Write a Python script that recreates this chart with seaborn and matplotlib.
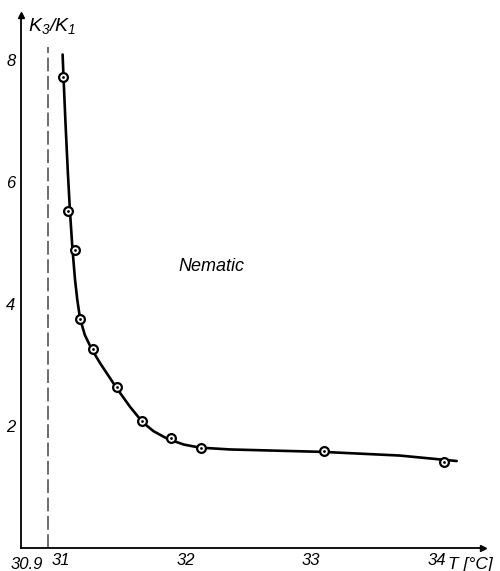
import numpy as np
import pandas as pd
import matplotlib
matplotlib.use("Agg")
import matplotlib.pyplot as plt
import seaborn as sns

# -------------------------------
# Data
# -------------------------------
temp_pts = [31.02, 31.06, 31.11, 31.15, 31.26, 31.45, 31.65, 31.88, 32.12, 33.10, 34.06]
ratio_pts = [7.72, 5.52, 4.89, 3.75, 3.26, 2.64, 2.07, 1.79, 1.64, 1.59, 1.41]

# hand-drawn fit curve through the points
temp_curve = [31.015, 31.022, 31.038, 31.057, 31.074, 31.094, 31.114, 31.132,
              31.154, 31.192, 31.246, 31.313, 31.445, 31.553, 31.652, 31.740,
              31.856, 31.983, 32.111, 32.350, 33.092, 33.706, 34.160]
ratio_curve = [8.09, 7.73, 6.97, 6.15, 5.51, 4.89, 4.40, 4.07,
               3.76, 3.49, 3.26, 3.03, 2.62, 2.31, 2.06, 1.91,
               1.78, 1.69, 1.64, 1.61, 1.57, 1.51, 1.42]

t_transition = 30.9
x_ticks = [31, 32, 33, 34]
y_ticks = [2, 4, 6, 8]

pts = pd.DataFrame({"T": temp_pts, "K": ratio_pts})
curve = pd.DataFrame({"T": temp_curve, "K": ratio_curve})

# -------------------------------
# Figure
# -------------------------------
sns.set_style("white")
plt.rcParams["font.family"] = ["Liberation Sans", "DejaVu Sans"]
plt.rcParams["font.style"] = "italic"
plt.rcParams["text.color"] = "black"
plt.rcParams["xtick.color"] = "black"
plt.rcParams["ytick.color"] = "black"
plt.rcParams["mathtext.fontset"] = "custom"
plt.rcParams["mathtext.it"] = "Liberation Sans:italic"
plt.rcParams["mathtext.rm"] = "Liberation Sans:italic"

fig = plt.figure(figsize=(5.0, 5.71), dpi=100)
ax = fig.add_axes([0.042, 0.041, 0.924, 0.933])

sns.lineplot(data=curve, x="T", y="K", sort=False, color="black", lw=1.9, ax=ax)
sns.scatterplot(data=pts, x="T", y="K", marker="o", s=40, facecolor="white",
                edgecolor="black", linewidth=1.6, zorder=3, ax=ax)
sns.scatterplot(data=pts, x="T", y="K", marker="o", s=4, color="black",
                linewidth=0, zorder=4, ax=ax)

ax.plot([t_transition, t_transition], [0, 8.22], color="#444444", lw=1.1,
        linestyle=(0, (9, 3)))

ax.set_xlim(30.683, 34.37)
ax.set_ylim(0, 8.74)
ax.set_xticks(x_ticks)
ax.set_xticklabels([str(t) for t in x_ticks])
ax.set_yticks(y_ticks)
ax.set_yticklabels([str(v) for v in y_ticks])
ax.tick_params(axis="x", direction="in", length=5, width=1, pad=4, labelsize=12)
ax.tick_params(axis="y", direction="in", length=6, width=1, pad=4, labelsize=12)
ax.set_xlabel("")
ax.set_ylabel("")

for side in ["top", "right"]:
    ax.spines[side].set_visible(False)
for side in ["left", "bottom"]:
    ax.spines[side].set_linewidth(1.3)
    ax.spines[side].set_color("black")

# arrow heads
ax.plot(0, 1, marker="^", color="black", ms=5, transform=ax.transAxes, clip_on=False)
ax.plot(1, 0, marker=">", color="black", ms=5, transform=ax.transAxes, clip_on=False)

ax.text(30.73, -0.16, "30.9", ha="center", va="top", fontsize=12, clip_on=False)
ax.text(34.09, -0.16, "T [°C]", ha="left", va="top", fontsize=12.5, clip_on=False)
ax.text(30.74, 8.55, "$K_3/K_1$", ha="left", va="center", fontsize=14, clip_on=False)
ax.text(32.2, 4.61, "Nematic", ha="center", va="center", fontsize=13)

fig.savefig("out.png", dpi=100)
